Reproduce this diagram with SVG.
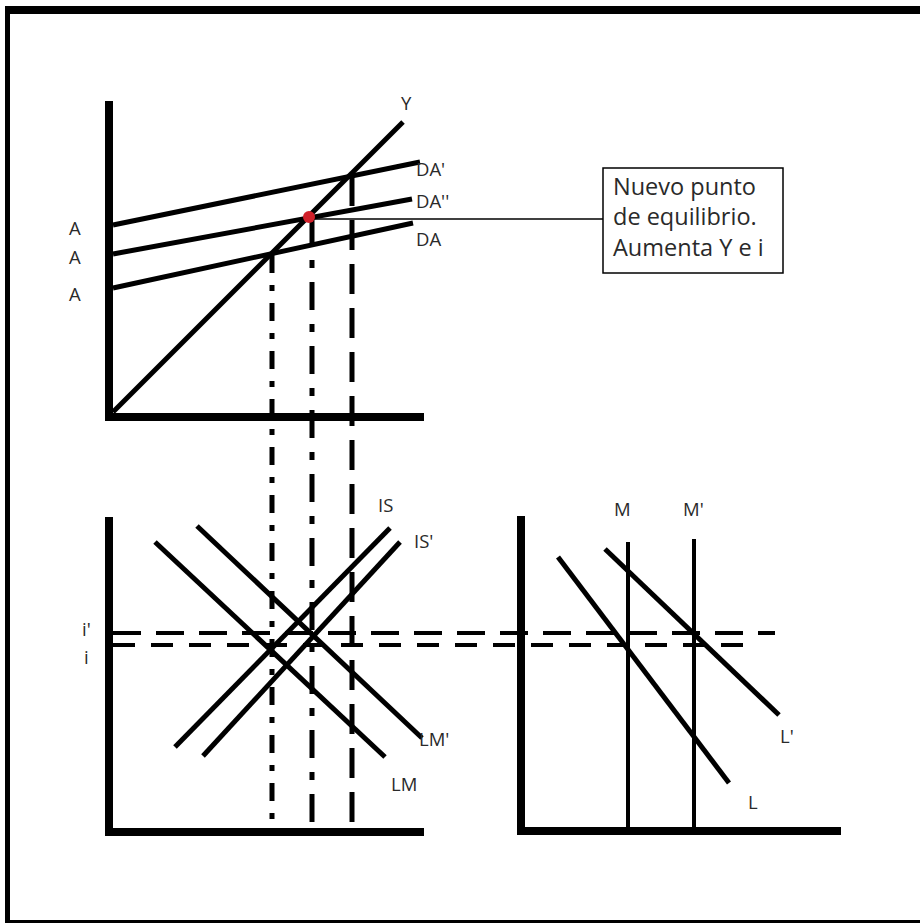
<svg xmlns="http://www.w3.org/2000/svg" width="920" height="924" viewBox="0 0 920 924">
<style>
.ax{stroke:#000;stroke-width:8;fill:none;stroke-linecap:square}
.cv{stroke:#000;stroke-width:5;fill:none}
.thin{stroke:#000;stroke-width:4;fill:none}
.dd1{stroke:#000;stroke-width:5;fill:none;stroke-dasharray:18 12 6 12}
.dd2{stroke:#000;stroke-width:5;fill:none;stroke-dasharray:28 14 8 14}
.ld{stroke:#000;stroke-width:5;fill:none;stroke-dasharray:30 14}
.hd1{stroke:#000;stroke-width:4;fill:none;stroke-dasharray:28 15}
.hd2{stroke:#000;stroke-width:4;fill:none;stroke-dasharray:22 16}
.lb{font-family:"Open Sans","Liberation Sans",sans-serif;font-size:18.5px;fill:#2a2a2a}
.bx{font-family:"Open Sans","Liberation Sans",sans-serif;font-size:23.5px;fill:#2a2a2a}
</style>
<rect width="920" height="924" fill="#fff"/>
<g id="frame">
<rect x="5" y="6" width="915" height="8" fill="#000"/>
<rect x="5" y="6" width="5" height="917" fill="#000"/>
<rect x="5" y="920" width="915" height="3" fill="#000"/>
</g>
<g id="connectors">
<line class="dd1" x1="272" y1="255" x2="272" y2="832"/>
<line class="dd2" x1="312" y1="218" x2="312" y2="832"/>
<line class="ld" x1="352" y1="176" x2="352" y2="832"/>
<line class="hd1" x1="113" y1="633" x2="775" y2="633"/>
<line class="hd2" x1="113" y1="645" x2="757" y2="645"/>
<line stroke="#000" stroke-width="1.5" x1="312" y1="219" x2="604" y2="219"/>
</g>
<g id="graph-top">
<line class="ax" x1="109" y1="105" x2="109" y2="417"/>
<line class="ax" x1="109" y1="417" x2="420" y2="417"/>
<line class="cv" stroke-width="6" x1="113" y1="412" x2="403" y2="122"/>
<line class="cv" x1="113" y1="225" x2="420" y2="162"/>
<line class="cv" x1="113" y1="254" x2="412" y2="199"/>
<line class="cv" x1="113" y1="288" x2="413" y2="223"/>
<circle cx="309" cy="217" r="6" fill="#d0202a"/>
<text class="lb" x="69" y="235">A</text>
<text class="lb" x="69" y="264">A</text>
<text class="lb" x="69" y="301">A</text>
<text class="lb" x="401" y="110">Y</text>
<text class="lb" x="416" y="176">DA'</text>
<text class="lb" x="416" y="208">DA''</text>
<text class="lb" x="416" y="246">DA</text>
</g>
<g id="callout">
<rect x="603" y="168" width="180" height="105" fill="#fff" stroke="#000" stroke-width="1.5"/>
<text class="bx" x="613" y="195">Nuevo punto</text>
<text class="bx" x="613" y="225">de equilibrio.</text>
<text class="bx" x="613" y="256">Aumenta Y e i</text>
</g>
<g id="graph-islm">
<line class="ax" x1="109" y1="521" x2="109" y2="832"/>
<line class="ax" x1="109" y1="832" x2="420" y2="832"/>
<line class="cv" x1="155" y1="542" x2="385" y2="757"/>
<line class="cv" x1="197" y1="526" x2="422" y2="738"/>
<line class="cv" x1="175" y1="747" x2="390" y2="528"/>
<line class="cv" x1="203" y1="756" x2="400" y2="542"/>
<text class="lb" x="378" y="512">IS</text>
<text class="lb" x="414" y="548">IS'</text>
<text class="lb" x="419" y="746">LM'</text>
<text class="lb" x="391" y="791">LM</text>
<text class="lb" x="82" y="636">i'</text>
<text class="lb" x="84" y="664">i</text>
</g>
<g id="graph-money">
<line class="ax" x1="521" y1="520" x2="521" y2="831"/>
<line class="ax" x1="521" y1="831" x2="837" y2="831"/>
<line class="thin" x1="628" y1="542" x2="628" y2="831"/>
<line class="thin" x1="694" y1="539" x2="694" y2="831"/>
<line class="cv" x1="558" y1="557" x2="729" y2="783"/>
<line class="cv" x1="605" y1="549" x2="779" y2="715"/>
<text class="lb" x="614" y="516">M</text>
<text class="lb" x="683" y="516">M'</text>
<text class="lb" x="780" y="743">L'</text>
<text class="lb" x="748" y="809">L</text>
</g>
</svg>
